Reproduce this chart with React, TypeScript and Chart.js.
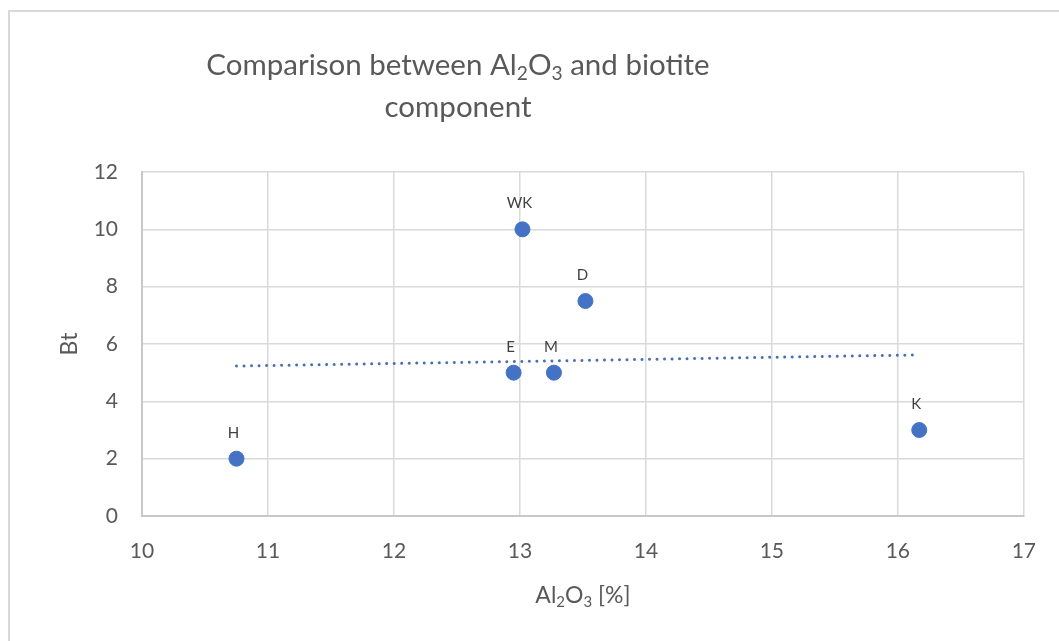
import React, { useEffect, useRef } from "react";
import { Chart, registerables } from "chart.js";

Chart.register(...registerables);

// ---- data ----
const sampleLabels = ["H", "E", "WK", "M", "D", "K"];
const al2o3Values = [10.75, 12.95, 13.02, 13.27, 13.52, 16.17];
const btValues = [2, 5, 10, 5, 7.5, 3];
const trendAl2o3 = [10.75, 16.17];
const trendBt = [5.23, 5.62];
const xTickValues = [10, 11, 12, 13, 14, 15, 16, 17];
const yTickValues = [0, 2, 4, 6, 8, 10, 12];

type Seg = { t: string; sub?: boolean };
const titleLine1: Seg[] = [
  { t: "Comparison between Al" },
  { t: "2", sub: true },
  { t: "O" },
  { t: "3", sub: true },
  { t: " and biotite" },
];
const titleLine2: Seg[] = [{ t: "component" }];
const xTitle: Seg[] = [
  { t: "Al" },
  { t: "2", sub: true },
  { t: "O" },
  { t: "3", sub: true },
  { t: " [%]" },
];
const yTitle = "Bt";

const FONT = "Lato, 'Open Sans', sans-serif";
const TEXT = "#595959";
const BLUE = "#4472C4";

function drawRich(
  ctx: CanvasRenderingContext2D,
  segs: Seg[],
  cx: number,
  baseline: number,
  size: number,
  color: string,
  weight = "normal"
) {
  const subSize = size * 0.65;
  let total = 0;
  const widths = segs.map((s) => {
    ctx.font = `${weight} ${s.sub ? subSize : size}px ${FONT}`;
    const w = ctx.measureText(s.t).width;
    total += w;
    return w;
  });
  let x = cx - total / 2;
  ctx.fillStyle = color;
  ctx.textAlign = "left";
  ctx.textBaseline = "alphabetic";
  segs.forEach((s, i) => {
    ctx.font = `${weight} ${s.sub ? subSize : size}px ${FONT}`;
    ctx.fillText(s.t, x, baseline + (s.sub ? size * 0.18 : 0));
    x += widths[i];
  });
}

const decorPlugin = {
  id: "decor",
  beforeDraw(chart: any) {
    const ctx = chart.ctx as CanvasRenderingContext2D;
    ctx.save();
    ctx.fillStyle = "#ffffff";
    ctx.fillRect(0, 0, chart.width, chart.height);
    ctx.strokeStyle = "#d9d9d9";
    ctx.lineWidth = 2;
    ctx.strokeRect(9, 11, chart.width + 20, chart.height + 20);
    ctx.restore();
  },
  afterDraw(chart: any) {
    const ctx = chart.ctx as CanvasRenderingContext2D;
    const area = chart.chartArea;
    ctx.save();
    drawRich(ctx, titleLine1, 458, 75, 29.5, TEXT, "normal");
    drawRich(ctx, titleLine2, 458, 117, 29.5, TEXT, "normal");
    drawRich(ctx, xTitle, (area.left + area.right) / 2, 603, 23, TEXT);
    ctx.translate(77, (area.top + area.bottom) / 2);
    ctx.rotate(-Math.PI / 2);
    ctx.font = `23px ${FONT}`;
    ctx.fillStyle = TEXT;
    ctx.textAlign = "center";
    ctx.textBaseline = "alphabetic";
    ctx.fillText(yTitle, 0, 0);
    ctx.restore();
  },
  afterDatasetsDraw(chart: any) {
    const ctx = chart.ctx as CanvasRenderingContext2D;
    const meta = chart.getDatasetMeta(0);
    ctx.save();
    ctx.font = `15px ${FONT}`;
    ctx.fillStyle = "#404040";
    ctx.textAlign = "center";
    ctx.textBaseline = "middle";
    meta.data.forEach((pt: any, i: number) => {
      ctx.fillText(sampleLabels[i], pt.x - 3, pt.y - 26);
    });
    ctx.restore();
  },
};

export default function App() {
  const canvasRef = useRef<HTMLCanvasElement | null>(null);

  useEffect(() => {
    const canvas = canvasRef.current;
    if (!canvas) return;
    const chart = new Chart(canvas, {
      type: "scatter",
      data: {
        datasets: [
          {
            label: "Bt",
            data: al2o3Values.map((x, i) => ({ x, y: btValues[i] })),
            backgroundColor: BLUE,
            borderColor: BLUE,
            pointRadius: 7.5,
            pointHoverRadius: 7.5,
            order: 2,
          },
          {
            label: "Trend",
            data: trendAl2o3.map((x, i) => ({ x, y: trendBt[i] })),
            showLine: true,
            borderColor: "#4a6fb0",
            borderWidth: 3,
            borderDash: [0.01, 7.5],
            borderCapStyle: "round",
            pointRadius: 0,
            pointHoverRadius: 0,
            order: 1,
          } as any,
        ],
      },
      options: {
        animation: false,
        responsive: false,
        events: [],
        layout: { padding: { left: 0, right: 35, top: 172, bottom: 0 } },
        plugins: {
          legend: { display: false },
          tooltip: { enabled: false },
          title: { display: false },
        },
        scales: {
          x: {
            type: "linear",
            min: 10,
            max: 17,
            afterFit: (s: any) => {
              s.height = 125;
            },
            afterBuildTicks: (s: any) => {
              s.ticks = xTickValues.map((v) => ({ value: v }));
            },
            grid: { color: "#d9d9d9", lineWidth: 1.5, drawTicks: false },
            border: { color: "#c8c8c8", width: 2 },
            ticks: {
              color: TEXT,
              font: { family: FONT, size: 21 },
              padding: 23,
            },
          },
          y: {
            type: "linear",
            min: 0,
            max: 12,
            afterFit: (s: any) => {
              s.width = 142;
            },
            afterBuildTicks: (s: any) => {
              s.ticks = yTickValues.map((v) => ({ value: v }));
            },
            grid: { color: "#d9d9d9", lineWidth: 1.5, drawTicks: false },
            border: { color: "#c8c8c8", width: 2 },
            ticks: {
              color: TEXT,
              font: { family: FONT, size: 21 },
              padding: 24,
            },
          },
        },
      },
      plugins: [decorPlugin],
    });
    return () => chart.destroy();
  }, []);

  return (
    <div style={{ position: "fixed", left: 0, top: 0, width: 1059, height: 641, overflow: "hidden" }}>
      <canvas ref={canvasRef} width={1059} height={641} style={{ display: "block" }} />
    </div>
  );
}
